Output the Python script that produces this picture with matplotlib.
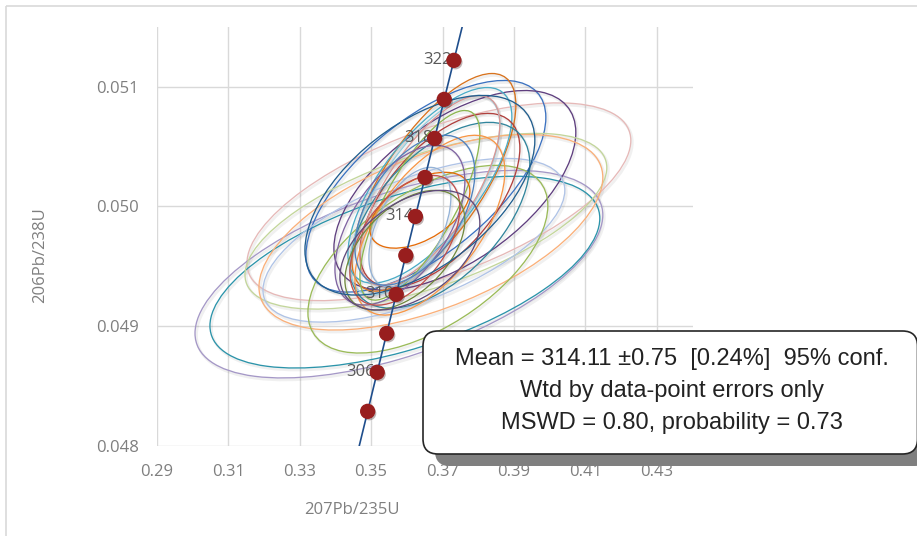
import matplotlib
matplotlib.use("Agg")
import matplotlib.pyplot as plt
import matplotlib.patheffects as pe
from matplotlib.patches import Circle, FancyBboxPatch, Rectangle
from matplotlib.transforms import Affine2D

# ---------------- data ----------------
# Concordia curve (ages in Ma) and ratios
conc_age = [300, 302, 304, 306, 308, 310, 312, 314, 316, 318, 320, 322, 324, 326]
conc_x = [0.343737, 0.346386, 0.349041, 0.351701, 0.354366, 0.357036, 0.359712,
          0.362393, 0.365079, 0.367770, 0.370467, 0.373169, 0.375876, 0.378589]
conc_y = [0.047637, 0.047962, 0.048287, 0.048613, 0.048938, 0.049264, 0.049589,
          0.049915, 0.050241, 0.050567, 0.050893, 0.051219, 0.051545, 0.051871]
marker_ages = [304, 306, 308, 310, 312, 314, 316, 318, 320, 322]
label_ages = [306, 310, 314, 318, 322]

# Error ellipses: centre (207/235, 206/238), half-extent in x and y, correlation
ell_x = [0.36897, 0.35778, 0.35945, 0.36533, 0.37344, 0.36533, 0.36673, 0.36197,
         0.36589, 0.36757, 0.36645, 0.36925, 0.36925, 0.36505, 0.36645, 0.36365,
         0.36645, 0.36365, 0.36085, 0.35806, 0.36225, 0.35945, 0.35945, 0.36085,
         0.36365]
ell_y = [0.0500375, 0.049433, 0.049450, 0.050167, 0.050133, 0.049875, 0.049783,
         0.049716, 0.049558, 0.050200, 0.050175, 0.050050, 0.049925, 0.050092,
         0.050133, 0.050008, 0.049842, 0.049967, 0.049825, 0.049842, 0.049967,
         0.049716, 0.049633, 0.049633, 0.050092]
ell_ex = [0.05371, 0.05706, 0.05455, 0.03357, 0.03385, 0.05063, 0.04811, 0.04224,
          0.03357, 0.02294, 0.02294, 0.02238, 0.02517, 0.02098, 0.01958, 0.01678,
          0.02098, 0.01399, 0.01147, 0.01818, 0.01678, 0.01538, 0.01678, 0.01958,
          0.03217]
ell_ey = [0.000826, 0.000867, 0.000801, 0.000884, 0.000834, 0.000734, 0.000817,
          0.000684, 0.000784, 0.000909, 0.000817, 0.000726, 0.000776, 0.000834,
          0.000792, 0.000792, 0.000751, 0.000317, 0.000500, 0.000667, 0.000626,
          0.000542, 0.000500, 0.000500, 0.000834]
ell_rho = [0.62, 0.57, 0.56, 0.65, 0.58, 0.61, 0.56, 0.61, 0.57, 0.71, 0.70, 0.60,
           0.55, 0.70, 0.70, 0.75, 0.60, 0.50, 0.50, 0.55, 0.50, 0.50, 0.50, 0.45,
           0.55]
ell_col = ['#E6B9B8', '#A598C7', '#2C94AA', '#3C72C0', '#5F3F7F', '#C3D69B',
           '#FAB07A', '#AFC3E6', '#9BBB59', '#D8731E', '#4BACC6', '#B0403D',
           '#31859C', '#93CDDD', '#D99694', '#8DB650', '#F79646', '#E46C0A',
           '#95B3D7', '#8064A2', '#4F81BD', '#C0504D', '#71893F', '#604A7B',
           '#215E8E']

xticks = [0.29, 0.31, 0.33, 0.35, 0.37, 0.39, 0.41, 0.43]
yticks = [0.048, 0.049, 0.050, 0.051]

box_lines = ["Mean = 314.11 \u00b10.75  [0.24%]  95% conf.",
             "Wtd by data-point errors only",
             "MSWD = 0.80, probability = 0.73"]

# ---------------- figure ----------------
W, H = 917, 536
fig = plt.figure(figsize=(W / 100, H / 100), dpi=100)
L, R, T, B = 156.7, 692.7, 26.7, 445.7
ax = fig.add_axes([L / W, 1 - B / H, (R - L) / W, (B - T) / H])
ax.set_xlim(0.29, 0.44)
ax.set_ylim(0.048, 0.0515)
for s in ax.spines.values():
    s.set_visible(False)
ax.set_xticks(xticks)
ax.set_yticks(yticks)
ax.set_xticklabels([f"{v:.2f}" for v in xticks])
ax.set_yticklabels([f"{v:.3f}" for v in yticks])
ax.grid(True, color='#D9D9D9', lw=1.0, zorder=0)
ax.set_axisbelow(True)
ax.tick_params(length=0, pad=13, labelsize=12, labelcolor='#7F7F7F')
for lab in ax.get_xticklabels() + ax.get_yticklabels():
    lab.set_fontfamily('Open Sans')

for cx, cy, ex, ey, r, c in zip(ell_x, ell_y, ell_ex, ell_ey, ell_rho, ell_col):
    m = Affine2D.from_values(ex, ey * r, 0, ey * (1 - r * r) ** 0.5, cx, cy)
    # soft drop shadow
    sh = Circle((0, 0), 1, transform=m + ax.transData + Affine2D().translate(1.5, -2.0),
                fill=False, ec='#000000', alpha=0.06, lw=2.0, zorder=1.9)
    ax.add_patch(sh)
    circ = Circle((0, 0), 1, transform=m + ax.transData, fill=False, ec=c, lw=0.95,
                  zorder=2)
    ax.add_patch(circ)

ax.plot(conc_x, conc_y, color='#1F4E8C', lw=1.2, zorder=3)

mx = [conc_x[conc_age.index(a)] for a in marker_ages]
my = [conc_y[conc_age.index(a)] for a in marker_ages]
ax.scatter(mx, my, s=100, color='#981E1E', zorder=5,
           path_effects=[pe.SimplePatchShadow(offset=(1.2, -1.5), alpha=0.3), pe.Normal()])

for a in label_ages:
    i = conc_age.index(a)
    ax.annotate(str(a), (conc_x[i], conc_y[i]), xytext=(-1.5, 0), textcoords='offset points',
                ha='right', va='center', fontsize=12, color='#595959',
                fontfamily='Open Sans', zorder=4)

fig.text(352 / W, 1 - 510 / H, "207Pb/235U", ha='center', va='center', fontsize=12,
         color='#7F7F7F', fontfamily='Open Sans')
fig.text(40 / W, 1 - 255 / H, "206Pb/238U", ha='center', va='center', fontsize=12,
         color='#7F7F7F', fontfamily='Open Sans', rotation=90)

# overlay in pixel coordinates
ov = fig.add_axes([0, 0, 1, 1], zorder=10)
ov.set_xlim(0, W)
ov.set_ylim(H, 0)
ov.axis('off')
ov.patch.set_alpha(0)
ov.add_patch(Rectangle((5.5, 5.5), 1200, 1200, fill=False, ec='#D9D9D9', lw=1.2))
bx, by, bw, bh = 423, 331, 494.5, 123
ov.add_patch(FancyBboxPatch((bx + 12, by + 12), bw, bh,
                            boxstyle='round,pad=0,rounding_size=15',
                            fc='#7F7F7F', ec='none'))
ov.add_patch(FancyBboxPatch((bx, by), bw, bh, boxstyle='round,pad=0,rounding_size=15',
                            fc='white', ec='#262626', lw=1.2))
for yy, t in zip([359, 391, 423], box_lines):
    ov.text(672, yy, t, ha='center', va='center', fontsize=17, color='#222222',
            fontfamily='Liberation Sans')

fig.savefig('out.png', dpi=100)
